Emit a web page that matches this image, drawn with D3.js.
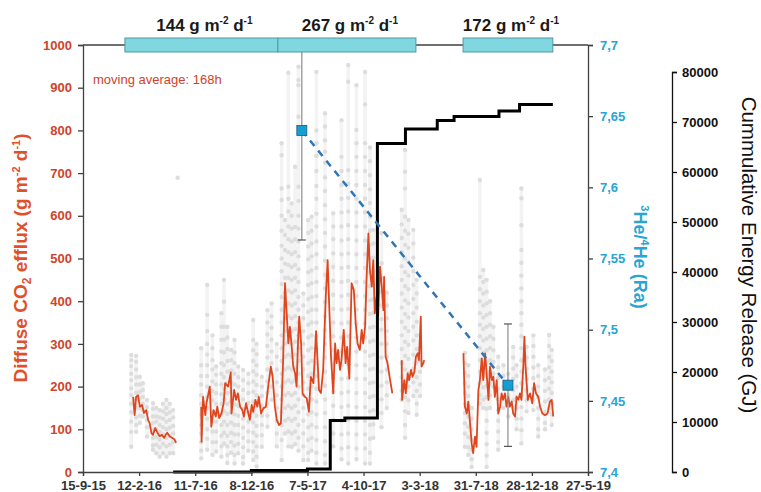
<!DOCTYPE html>
<html>
<head>
<meta charset="utf-8">
<script src="https://cdn.jsdelivr.net/npm/d3@7"></script>
<style>
  body { margin: 0; background: #fff; }
  svg { font-family: "Liberation Sans", Arial, sans-serif; }
</style>
</head>
<body>
<div id="chart"></div>
<script>
// days are counted from 15-9-15 (first tick of the date axis)
const startDate = new Date(2015, 8, 15);
const tickDays = [0, 150, 300, 450, 600, 750, 900, 1050, 1200, 1350];

// 168h moving average of diffuse CO2 efflux (null = gap in the record)
const co2Days = [134, 138, 142, 147, 152, 158, 163, 169, 174, 178, 183, 187, 193, 199, 205, 211, 217, 221, 225, 232, 238, 245, 249,
  null,
  316, 317, 321, 327, 330, 339, 343, 349, 355, 359, 364, 370, 376, 380, 388, 395, 397, 404, 409, 414, 420, 426, 430, 436, 442, 446,
  451, 455, 461, 466, 470, 476, 482, 489, 495, 502, 507, 513, 518, 524, 529, 535, 540, 544, 549, 553, 558, 562, 567, 571, 575, 578,
  583, 587, 593, 598, 604, 609, 616, 623, 631, 636, 642, 649, 654, 658, 663, 669, 674, 678, 682, 687, 691, 697, 702, 706, 712, 718,
  724, 729, 734, 740, 745, 749, 754, 758, 763, 767, 772, 776, 780, 785, 789, 794, 798, 803, 805, 809, 814, 821, 827,
  null,
  852, 853, 859, 863, 868, 872, 877, 881, 886, 890, 895, 898, 903, 905, 910, 912,
  null,
  1017, 1021, 1026, 1030, 1034, 1039, 1043, 1048, 1052, 1057, 1061, 1066, 1070, 1075, 1079, 1084, 1088, 1093, 1097, 1101, 1106, 1110,
  1115, 1119, 1123, 1128, 1132, 1137, 1141, 1146, 1150, 1155, 1159, 1164, 1168, 1172, 1177, 1180, 1183, 1189, 1195, 1201, 1206, 1211,
  1217, 1222, 1228, 1235, 1242, 1248, 1253, 1257];
const co2Avg = [176, 133, 176, 180, 153, 157, 138, 145, 122, 115, 91, 87, 103, 92, 84, 87, 80, 87, 92, 83, 80, 76, 68,
  null,
  153, 71, 176, 133, 161, 200, 106, 145, 130, 153, 126, 137, 161, 208, 200, 233, 137, 192, 169, 184, 153, 145, 130, 161, 137, 122,
  157, 141, 169, 153, 176, 137, 149, 153, 200, 247, 223, 153, 122, 110, 114, 262, 442, 379, 301, 340, 293, 247, 231, 200, 309, 364,
  301, 184, 176, 173, 141, 223, 208, 330, 192, 185, 239, 411, 496, 395, 270, 184, 301, 255, 286, 239, 262, 333, 255, 293, 219, 442,
  426, 348, 301, 286, 333, 301, 340, 450, 559, 473, 434, 496, 372, 411, 364, 481, 442, 379, 457, 270, 255, 215, 184,
  null,
  262, 169, 215, 184, 231, 215, 239, 223, 235, 270, 278, 262, 364, 247, 255, 262,
  null,
  278, 153, 137, 165, 122, 67, 44, 83, 59, 192, 215, 266, 215, 278, 231, 169, 247, 215, 223, 176, 215, 137,
  153, 184, 169, 184, 153, 176, 153, 165, 137, 130, 176, 169, 184, 169, 247, 317, 247, 169, 184, 161, 208, 184,
  176, 153, 137, 133, 137, 165, 169, 130];

// individual measurements, grouped by sampling column
const scatterDays = [129, 142, 152, 160, 171, 187, 196, 205, 214, 223, 232, 241, 253,
  316, 332, 346, 356, 370, 377, 386, 396, 405, 415, 428, 442, 455, 464, 478, 493, 504, 518, 531, 540, 549, 558, 567, 576,
  589, 602, 611, 624, 647, 669, 691, 709, 731, 754, 767, 776, 798, 812,
  852, 861, 870, 883, 892, 901,
  1021, 1030, 1039, 1061, 1070, 1079, 1088, 1097, 1110, 1124, 1137, 1150, 1159, 1172, 1186, 1204, 1217, 1235, 1246, 1253];
const scatterVals = [
  [274, 262, 248, 230, 215, 196, 180, 160, 140, 118, 94, 59],
  [272, 258, 240, 222, 205, 186, 170, 150, 128, 110, 94],
  [223, 205, 188, 172, 150, 132, 115],
  [208, 192, 176, 160, 145, 130],
  [169, 152, 140, 122, 105, 83],
  [161, 148, 130, 115, 98, 80, 62, 52],
  [150, 130, 118, 100, 82, 64, 44],
  [145, 128, 110, 94, 76, 58, 36],
  [160, 142, 125, 105, 88, 66, 44],
  [169, 150, 136, 118, 100, 80, 60, 36],
  [160, 140, 122, 104, 85, 64, 44],
  [145, 128, 108, 90, 70, 44],
  [689],
  [290, 250, 225, 205, 180, 160, 135, 110, 90, 70, 50, 32],
  [438, 368, 330, 300, 275, 250, 225, 200, 175, 150, 125, 100, 78, 52],
  [320, 290, 262, 240, 212, 190, 168, 140, 118, 95, 70, 40],
  [247, 228, 205, 185, 160, 140, 118, 95, 70, 48],
  [372, 340, 310, 282, 255, 230, 205, 182, 160, 135, 110, 85, 60, 36],
  [450, 399, 340, 310, 280, 250, 222, 195, 170, 142, 118, 92, 66],
  [340, 315, 288, 260, 235, 208, 185, 160, 136, 110, 85, 60, 40, 21],
  [286, 262, 238, 210, 188, 165, 140, 116, 92, 70, 45],
  [309, 280, 255, 230, 205, 182, 158, 135, 110, 88, 62, 40, 20],
  [247, 222, 200, 178, 155, 132, 110, 88, 66, 44],
  [239, 215, 192, 170, 148, 125, 104, 80, 58, 35, 20],
  [230, 208, 185, 162, 140, 118, 95, 72, 50],
  [356, 309, 285, 260, 236, 212, 188, 165, 140, 116, 92, 70, 48, 28],
  [300, 276, 250, 228, 204, 180, 156, 132, 108, 85, 60, 36, 13],
  [223, 200, 178, 155, 132, 110, 86, 59],
  [379, 350, 322, 295, 268, 240, 212, 185, 160, 132, 106],
  [395, 365, 338, 310, 282, 255, 228, 200, 169],
  [300, 270, 240, 210, 180, 150, 120, 90, 60],
  [770, 742, 664, 637, 600, 565, 530, 500, 470, 440, 410, 380, 350, 320, 290, 260, 230, 200, 170, 140, 110, 75, 28],
  [590, 555, 520, 488, 455, 420, 390, 360, 330, 300, 270, 240, 210, 180, 150, 120, 90],
  [935, 668, 640, 610, 575, 545, 515, 485, 455, 425, 395, 365, 335, 305, 275, 245, 215, 185, 155, 125, 95, 60],
  [629, 600, 570, 540, 510, 480, 450, 420, 390, 360, 330, 300, 270, 240, 210, 180, 150, 120, 90, 59],
  [715, 574, 545, 515, 485, 455, 425, 395, 365, 335, 305, 275, 245, 215, 185, 155, 125, 95, 65],
  [949, 918, 906, 832, 668, 635, 600, 570, 540, 505, 475, 445, 410, 380, 350, 320, 290, 260, 230, 200, 170, 140, 110, 80, 50],
  [418, 390, 360, 330, 300, 270, 240, 210, 180, 150, 120, 90, 60, 28],
  [590, 560, 528, 498, 468, 438, 405, 375, 345, 315, 285, 255, 225, 195, 165, 135, 105, 75, 45, 28],
  [598, 565, 535, 505, 472, 442, 410, 380, 350, 320, 290, 260, 230, 200, 170, 140, 110, 80, 50],
  [937, 800, 770, 740, 705, 670, 640, 605, 575, 540, 510, 478, 445, 412, 380, 350, 318, 288, 255, 225, 195, 165, 135, 105, 75, 45, 20],
  [840, 809, 777, 750, 724, 690, 658, 625, 592, 560, 528, 495, 462, 430, 398, 365, 332, 300, 268, 235, 202, 170, 138, 105, 72, 40, 20],
  [606, 575, 545, 512, 480, 448, 415, 382, 350, 318, 285, 252, 220, 188, 155, 122, 90, 60],
  [824, 738, 705, 672, 640, 608, 575, 542, 510, 478, 445, 412, 380, 348, 315, 282, 250, 218, 185, 152, 120, 88, 55, 30],
  [953, 914, 707, 675, 642, 610, 578, 545, 512, 480, 448, 415, 382, 350, 318, 285, 252, 220, 188, 155, 122, 90, 58, 20],
  [906, 801, 770, 738, 705, 672, 640, 608, 575, 542, 510, 478, 445, 412, 380, 348, 315, 282, 250, 218, 185, 152, 120, 88, 55, 30],
  [937, 861, 770, 738, 705, 672, 640, 608, 575, 542, 510, 478, 445, 412, 380, 348, 315, 282, 250, 218, 185, 152, 120, 88, 55, 20],
  [760, 728, 695, 662, 630, 598, 565, 532, 500, 468, 435, 402, 370, 338, 305, 272, 240, 208, 175, 142, 110, 78, 45, 20],
  [567, 535, 502, 470, 438, 405, 372, 340, 308, 275, 242, 210, 178, 145, 112, 80],
  [560, 489, 455, 422, 390, 358, 333, 300, 268, 235, 202, 170, 138, 105],
  [420, 390, 360, 330, 300, 270, 240, 210, 180, 150],
  [614, 580, 548, 515, 482, 450, 418, 385, 352, 320, 288, 255, 222, 190, 169],
  [754, 703, 664, 598, 565, 532, 500, 468, 435, 402, 370, 338, 305, 272, 240, 208, 175, 142, 110, 80],
  [590, 558, 525, 492, 460, 428, 395, 362, 330, 298, 265, 232, 200, 168, 138],
  [567, 535, 502, 470, 438, 405, 372, 340, 308, 275, 242, 210, 178],
  [450, 418, 385, 352, 320, 288, 255, 222, 190, 160, 134],
  [320, 290, 262, 235, 205, 178],
  [279, 255, 232, 208, 185, 160, 138, 114, 90, 59],
  [250, 225, 200, 178, 155, 130, 106, 82, 58, 40],
  [150, 125, 100, 76, 52, 30, 12],
  [684, 457, 428, 400, 372, 345, 318, 290, 262, 235, 208, 180, 160],
  [473, 445, 418, 390, 362, 335, 308, 280, 252, 225, 198, 170, 150],
  [450, 422, 395, 368, 340, 312, 285, 258, 230, 202, 175, 148, 120, 92, 65, 38, 12],
  [400, 372, 345, 318, 290, 262, 235, 208, 180, 150],
  [340, 312, 285, 258, 230, 200],
  [270, 245, 220, 195, 170, 145, 120, 95, 70, 52],
  [250, 225, 200, 175, 150],
  [230, 205, 180, 155, 130],
  [293, 268, 242, 218, 192, 168, 150],
  [250, 225, 200, 175, 150, 125, 100],
  [664, 641, 578, 520, 490, 460, 430, 400, 372, 345, 318, 290, 262, 235, 208, 180, 152, 125, 98, 67],
  [293, 268, 242, 218, 192, 168, 142],
  [320, 295, 270, 245, 220, 195, 170, 145],
  [250, 225, 200, 175, 150, 125, 100, 83],
  [240, 215, 190, 165, 140, 115, 100],
  [321, 295, 270, 245, 220, 195, 170, 150],
  [286, 260, 235, 210, 185, 160, 135, 110]
];

// cumulative energy release (GJ), stepped
const energyDays = [241, 450, 600, 661, 700, 787, 862, 947, 992, 1112, 1167, 1256];
const energyGJ = [0, 300, 600, 10300, 10800, 65700, 68600, 70300, 71100, 72200, 73500, 73500];

// 3He/4He samples
const heDays = [585, 1136];
const heRatio = [7.64, 7.461];
const heErr = [0.077, 0.043];

// mean efflux periods shown on top
const periodStart = [112, 521, 1016];
const periodEnd = [521, 890, 1256];
const periodMean = ['144', '267', '172'];

const width = 761, height = 492;
const margin = { top: 45, left: 83 };
const plotBottom = 472, plotRight = 588;
const day = d => d3.timeDay.offset(startDate, d);

const svg = d3.select('#chart').append('svg')
    .attr('width', width)
    .attr('height', height);

const x = d3.scaleTime()
    .domain([day(0), day(1350)])
    .range([margin.left, plotRight]);
const yCo2 = d3.scaleLinear().domain([0, 1000]).range([plotBottom, margin.top]);
const yHe = d3.scaleLinear().domain([7.4, 7.7]).range([plotBottom, margin.top]);
const yEnergy = d3.scaleLinear().domain([0, 80000]).range([plotBottom, 72]);

const red = '#e0461e', blue = '#27a5d3', axisGrey = '#404040';

// scatter: faint column of the hourly record + measured dots
const cols = scatterDays.map((d, i) => ({ day: d, vals: scatterVals[i] }));
svg.append('g').selectAll('line')
    .data(cols.filter(c => c.vals.length > 1))
    .join('line')
    .attr('x1', c => x(day(c.day))).attr('x2', c => x(day(c.day)))
    .attr('y1', c => yCo2(d3.max(c.vals))).attr('y2', c => yCo2(d3.min(c.vals)))
    .attr('stroke', '#f3f3f3')
    .attr('stroke-width', 3.5);
svg.append('g').selectAll('circle')
    .data(cols.flatMap(c => c.vals.map(v => [c.day, v])))
    .join('circle')
    .attr('cx', d => x(day(d[0])))
    .attr('cy', d => yCo2(d[1]))
    .attr('r', 2.2)
    .attr('fill', '#dddddd');

// moving average
const avgLine = d3.line()
    .defined(d => d[1] != null)
    .x(d => x(day(d[0])))
    .y(d => yCo2(d[1]));
svg.append('path')
    .datum(co2Days.map((d, i) => [d, co2Avg[i]]))
    .attr('d', avgLine)
    .attr('fill', 'none')
    .attr('stroke', red)
    .attr('stroke-width', 1.8)
    .attr('stroke-linejoin', 'round');

// cumulative energy
svg.append('path')
    .datum(energyDays.map((d, i) => [d, energyGJ[i]]))
    .attr('d', d3.line().curve(d3.curveStepAfter).x(d => x(day(d[0]))).y(d => yEnergy(d[1])))
    .attr('fill', 'none')
    .attr('stroke', '#000')
    .attr('stroke-width', 3);

// helium: error bars, dashed trend, markers
const he = heDays.map((d, i) => ({ day: d, r: heRatio[i], e: heErr[i] }));
const eb = svg.append('g').selectAll('g').data(he).join('g');
eb.append('line')
    .attr('x1', d => x(day(d.day))).attr('x2', d => x(day(d.day)))
    .attr('y1', d => yHe(Math.min(7.7, d.r + d.e)))
    .attr('y2', d => yHe(d.r - d.e))
    .attr('stroke', '#8c8c8c').attr('stroke-width', 1.2);
eb.filter(d => d.r + d.e <= 7.7).append('line')
    .attr('x1', d => x(day(d.day)) - 4).attr('x2', d => x(day(d.day)) + 4)
    .attr('y1', d => yHe(d.r + d.e)).attr('y2', d => yHe(d.r + d.e))
    .attr('stroke', '#555').attr('stroke-width', 1.2);
eb.append('line')
    .attr('x1', d => x(day(d.day)) - 4).attr('x2', d => x(day(d.day)) + 4)
    .attr('y1', d => yHe(d.r - d.e)).attr('y2', d => yHe(d.r - d.e))
    .attr('stroke', '#555').attr('stroke-width', 1.2);

svg.append('path')
    .datum(he)
    .attr('d', d3.line().x(d => x(day(d.day))).y(d => yHe(d.r)))
    .attr('fill', 'none')
    .attr('stroke', '#2e75b6')
    .attr('stroke-width', 2.5)
    .attr('stroke-dasharray', '7,6');

svg.append('g').selectAll('rect').data(he).join('rect')
    .attr('x', d => x(day(d.day)) - 5)
    .attr('y', d => yHe(d.r) - 5)
    .attr('width', 10).attr('height', 10)
    .attr('fill', '#159fd1')
    .attr('stroke', '#1c5b86')
    .attr('stroke-width', 0.8);

// axes
const fmtDate = d3.timeFormat('%-d-%-m-%y');
const xAxis = svg.append('g')
    .attr('transform', `translate(0,${plotBottom})`)
    .call(d3.axisBottom(x).tickValues(tickDays.map(day)).tickFormat(fmtDate).tickSize(4));
xAxis.selectAll('text').attr('dy', '0.82em');

const leftAxis = svg.append('g')
    .attr('transform', `translate(${margin.left},0)`)
    .call(d3.axisLeft(yCo2).tickValues(d3.range(0, 1001, 100)).tickFormat(d3.format('d')).tickSize(5).tickPadding(6));
leftAxis.selectAll('text').attr('fill', '#d0432a');

const heAxis = svg.append('g')
    .attr('transform', `translate(${plotRight},0)`)
    .call(d3.axisRight(yHe).tickValues([7.4, 7.45, 7.5, 7.55, 7.6, 7.65, 7.7])
        .tickFormat(v => d3.format('.2~f')(v).replace('.', ',')).tickSize(5).tickPadding(7));
heAxis.selectAll('text').attr('fill', blue);

const eAxis = svg.append('g')
    .attr('transform', 'translate(672,0)')
    .call(d3.axisRight(yEnergy).tickValues(d3.range(0, 80001, 10000)).tickFormat(d3.format('d')).tickSize(5).tickPadding(5));
eAxis.selectAll('text').attr('fill', '#111');

[xAxis, leftAxis, heAxis, eAxis].forEach(a => {
    a.selectAll('text').attr('font-size', 13).attr('font-weight', 'bold')
        .attr('font-family', '"Liberation Sans", Arial, sans-serif');
    a.selectAll('line, path').attr('stroke', axisGrey).attr('stroke-width', 1.3);
});
xAxis.selectAll('text').attr('fill', '#333');
eAxis.selectAll('line, path').attr('stroke', '#111');

// top frame line
svg.append('line')
    .attr('x1', margin.left).attr('x2', plotRight)
    .attr('y1', margin.top).attr('y2', margin.top)
    .attr('stroke', axisGrey).attr('stroke-width', 1.3);

// period bars with mean efflux
const periods = periodStart.map((s, i) => ({ s, e: periodEnd[i], label: periodMean[i] }));
svg.append('g').selectAll('rect').data(periods).join('rect')
    .attr('x', d => x(day(d.s)))
    .attr('y', margin.top - 7)
    .attr('width', d => x(day(d.e)) - x(day(d.s)))
    .attr('height', 14)
    .attr('fill', '#80d7df')
    .attr('stroke', '#4f9aa3')
    .attr('stroke-width', 1);

const pl = svg.append('g').selectAll('text').data(periods).join('text')
    .attr('x', d => (x(day(d.s)) + x(day(d.e))) / 2 + 3)
    .attr('y', 31)
    .attr('text-anchor', 'middle')
    .attr('font-size', 17)
    .attr('font-weight', 'bold')
    .attr('fill', '#1a1a1a');
pl.append('tspan').text(d => `${d.label} g m`);
pl.append('tspan').attr('dy', -7).attr('font-size', 10).text('-2');
pl.append('tspan').attr('dy', 7).text(' d');
pl.append('tspan').attr('dy', -7).attr('font-size', 10).text('-1');

svg.append('text')
    .attr('x', 93).attr('y', 84)
    .attr('font-size', 13)
    .attr('fill', '#d0432a')
    .text('moving average: 168h');

// axis titles
const t1 = svg.append('text')
    .attr('transform', 'translate(27,258) rotate(-90)')
    .attr('text-anchor', 'middle')
    .attr('font-size', 19).attr('font-weight', 'bold')
    .attr('fill', '#e0502a');
t1.append('tspan').text('Diffuse CO');
t1.append('tspan').attr('dy', 4).attr('font-size', 12).text('2');
t1.append('tspan').attr('dy', -4).text(' efflux (g m');
t1.append('tspan').attr('dy', -7).attr('font-size', 11).text('-2');
t1.append('tspan').attr('dy', 7).text(' d');
t1.append('tspan').attr('dy', -7).attr('font-size', 11).text('-1');
t1.append('tspan').attr('dy', 7).text(')');

const t2 = svg.append('text')
    .attr('transform', 'translate(634,257) rotate(90)')
    .attr('text-anchor', 'middle')
    .attr('font-size', 18).attr('font-weight', 'bold')
    .attr('fill', blue);
t2.append('tspan').attr('dy', -7).attr('font-size', 11).text('3');
t2.append('tspan').attr('dy', 7).text('He/');
t2.append('tspan').attr('dy', -7).attr('font-size', 11).text('4');
t2.append('tspan').attr('dy', 7).text('He (Ra)');

svg.append('text')
    .attr('transform', 'translate(742,255) rotate(90)')
    .attr('text-anchor', 'middle')
    .attr('font-size', 20.5)
    .attr('fill', '#111')
    .text('Cummulative Energy Release (GJ)');
</script>
</body>
</html>
